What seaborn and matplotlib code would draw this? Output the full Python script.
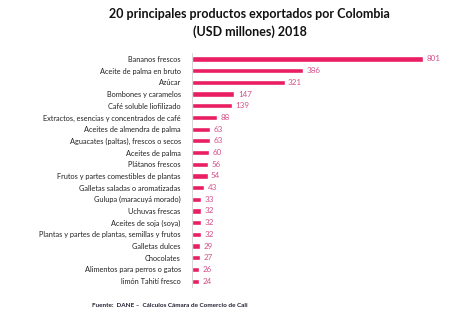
import matplotlib
matplotlib.use("Agg")
import matplotlib.pyplot as plt
import seaborn as sns
import pandas as pd

productos = [
    "Bananos frescos",
    "Aceite de palma en bruto",
    "Azúcar",
    "Bombones y caramelos",
    "Café soluble liofilizado",
    "Extractos, esencias y concentrados de café",
    "Aceites de almendra de palma",
    "Aguacates (paltas), frescos o secos",
    "Aceites de palma",
    "Plátanos frescos",
    "Frutos y partes comestibles de plantas",
    "Galletas saladas o aromatizadas",
    "Gulupa (maracuyá morado)",
    "Uchuvas frescas",
    "Aceites de soja (soya)",
    "Plantas y partes de plantas, semillas y frutos",
    "Galletas dulces",
    "Chocolates",
    "Alimentos para perros o gatos",
    "limón Tahití fresco",
]
valores = [801, 386, 321, 147, 139, 88, 63, 63, 60, 56, 54, 43, 33, 32, 32, 32, 29, 27, 26, 24]

titulo = "20 principales productos exportados por Colombia\n(USD millones) 2018"
fuente = "Fuente:  DANE –  Cálculos Cámara de Comercio de Cali"

df = pd.DataFrame({"producto": productos, "valor": valores})

sns.set_theme(style="white")
plt.rcParams["font.family"] = ["Lato", "DejaVu Sans"]

fig = plt.figure(figsize=(4.74, 3.28), dpi=100)
ax = fig.add_axes([0.405, 0.125, 0.545, 0.713])

bar_color = "#E91E63"
sns.barplot(data=df, x="valor", y="producto", color=bar_color, width=0.45,
            saturation=1, ax=ax)

ax.set_xlim(0, 895)
ax.set_xlabel("")
ax.set_ylabel("")
ax.set_xticks([])
ax.tick_params(axis="y", length=0, labelsize=5.3, pad=8, labelcolor="#222222")
for s in ["top", "right", "bottom"]:
    ax.spines[s].set_visible(False)
ax.spines["left"].set_color("#d0d0d0")
ax.spines["left"].set_linewidth(0.6)

for i, v in enumerate(valores):
    ax.text(v + 12, i, str(v), va="center", ha="left", fontsize=5.8,
            color="#D4508A")

fig.text(0.527, 0.975, titulo, ha="center", va="top", fontsize=9.0,
         fontweight="bold", color="#111111", linespacing=1.45)
fig.text(0.195, 0.068, fuente, ha="left", va="center", fontsize=4.6,
         color="#222233", fontweight="bold")

fig.savefig("out.png", dpi=100)
